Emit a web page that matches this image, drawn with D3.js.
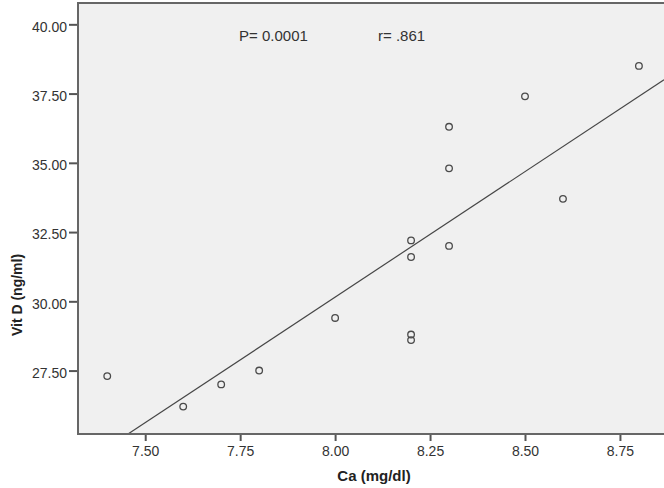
<!DOCTYPE html>
<html lang="en">
<head>
  <meta charset="UTF-8">
  <title>Vit D vs Ca</title>
  <script src="https://cdn.jsdelivr.net/npm/d3@7/dist/d3.min.js"></script>
<style>
  body { margin: 0; background: #fff; }
  text { font-family: "Liberation Sans", Arial, sans-serif; }
</style>
</head>
<body>
  <script>
    // Ca (mg/dl) and Vit D (ng/ml) for each subject
    var ca   = [7.4, 7.6, 7.7, 7.8, 8.0, 8.2, 8.2, 8.2, 8.2, 8.3, 8.3, 8.3, 8.5, 8.6, 8.8];
    var vitD = [27.3, 26.2, 27.0, 27.5, 29.4, 28.8, 28.6, 32.2, 31.6, 36.3, 34.8, 32.0, 37.4, 33.7, 38.5];

    var xTicks = [7.50, 7.75, 8.00, 8.25, 8.50, 8.75];
    var yTicks = [27.50, 30.00, 32.50, 35.00, 37.50, 40.00];

    var w = 664, h = 488;
    // note: "top" is taken by window.top, so plot edges get their own names
    var plotL = 78, plotT = 3, plotR = 664, plotB = 434;

    var svg = d3.select('body')
                .append('svg')
                .attr('width', w)
                .attr('height', h);

    var x = d3.scaleLinear().domain([7.323, 8.866]).range([plotL, plotR]);
    var y = d3.scaleLinear().domain([25.21, 40.77]).range([plotB, plotT]);

    // plot background
    svg.append('rect')
      .attr('x', plotL).attr('y', plotT)
      .attr('width', plotR - plotL + 10).attr('height', plotB - plotT)
      .attr('fill', '#f0f0f0');

    // least squares fit
    var mx = d3.mean(ca), my = d3.mean(vitD);
    var sxy = d3.sum(ca, (d, i) => (d - mx) * (vitD[i] - my));
    var sxx = d3.sum(ca, d => (d - mx) * (d - mx));
    var slope = sxy / sxx, icpt = my - slope * mx;

    var x0 = (y.domain()[0] - icpt) / slope;   // where the line meets the x axis
    var x1 = x.domain()[1];
    svg.append('clipPath').attr('id', 'plot')
      .append('rect').attr('x', plotL).attr('y', plotT)
      .attr('width', plotR - plotL).attr('height', plotB - plotT);

    svg.append('line')
      .attr('clip-path', 'url(#plot)')
      .attr('x1', x(x0)).attr('y1', y(icpt + slope * x0))
      .attr('x2', x(x1)).attr('y2', y(icpt + slope * x1))
      .attr('stroke', '#464646')
      .attr('stroke-width', 1.2);

    svg.selectAll('circle')
      .data(ca)
      .enter()
      .append('circle')
      .attr('cx', d => x(d))
      .attr('cy', (d, i) => y(vitD[i]))
      .attr('r', 3.3)
      .attr('fill', 'none')
      .attr('stroke', '#4a4a4a')
      .attr('stroke-width', 1.3);

    // axes
    var xAxis = svg.append('g')
      .attr('transform', 'translate(0,' + plotB + ')')
      .call(d3.axisBottom(x).tickValues(xTicks).tickFormat(d3.format('.2f')).tickSize(7).tickPadding(5));
    var yAxis = svg.append('g')
      .attr('transform', 'translate(' + plotL + ',0)')
      .call(d3.axisLeft(y).tickValues(yTicks).tickFormat(d3.format('.2f')).tickSize(9).tickPadding(2));

    [xAxis, yAxis].forEach(function(g) {
      g.select('.domain').remove();
      g.selectAll('line').attr('stroke', '#555').attr('stroke-width', 2);
      g.selectAll('text')
        .attr('fill', '#333')
        .attr('font-size', '14px')
        .attr('font-family', '"Liberation Sans", Arial, sans-serif');
    });
    yAxis.selectAll('text').attr('dy', '0.48em');

    // frame: left, top, bottom
    svg.append('path')
      .attr('d', 'M' + (plotR + 5) + ',' + plotT + 'H' + plotL + 'V' + plotB + 'H' + (plotR + 5))
      .attr('fill', 'none')
      .attr('stroke', '#666')
      .attr('stroke-width', 2);

    svg.append('text')
      .attr('x', 374).attr('y', 481)
      .attr('text-anchor', 'middle')
      .attr('font-size', '15px')
      .attr('font-weight', 'bold')
      .attr('fill', '#222')
      .text('Ca (mg/dl)');

    svg.append('text')
      .attr('transform', 'translate(22,295) rotate(-90)')
      .attr('text-anchor', 'middle')
      .attr('font-size', '14px')
      .attr('font-weight', 'bold')
      .attr('fill', '#222')
      .text('Vit D (ng/ml)');

    svg.append('text')
      .attr('x', x(7.747)).attr('y', y(39.41))
      .attr('font-size', '15px')
      .attr('fill', '#333')
      .text('P= 0.0001');

    svg.append('text')
      .attr('x', x(8.113)).attr('y', y(39.41))
      .attr('font-size', '15px')
      .attr('fill', '#333')
      .text('r= .861');
  </script>
</body>
</html>
